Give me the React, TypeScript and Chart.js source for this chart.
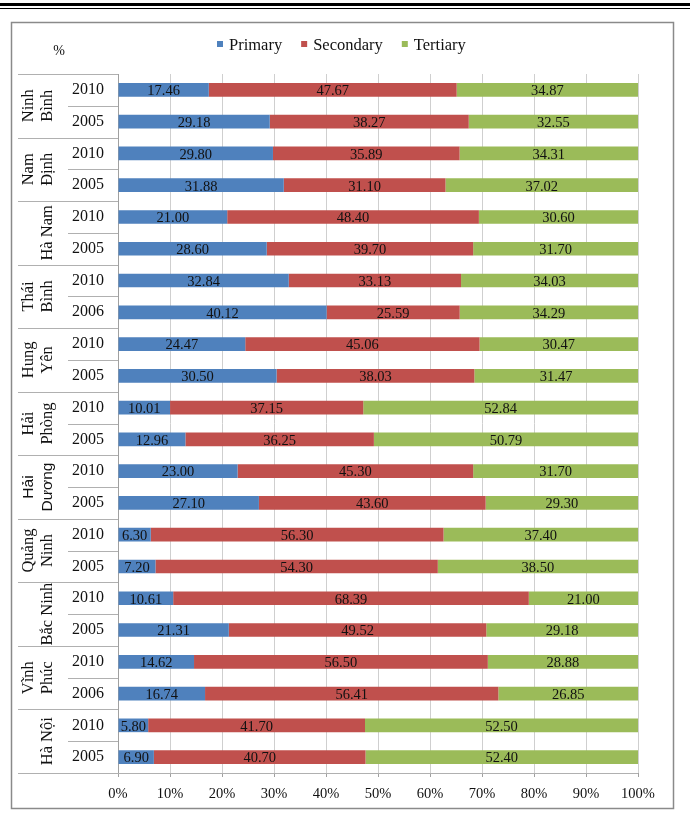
import React, { useEffect, useRef } from "react";
import { Chart, registerables } from "chart.js";

Chart.register(...registerables);

// ---- data ----
const provinces: string[][] = [
  ["Ninh", "Bình"],
  ["Nam", "Định"],
  ["Hà Nam"],
  ["Thái", "Bình"],
  ["Hung", "Yên"],
  ["Hải", "Phòng"],
  ["Hải", "Dương"],
  ["Quảng", "Ninh"],
  ["Bắc Ninh"],
  ["Vĩnh", "Phúc"],
  ["Hà Nội"],
];
const years = [
  "2010", "2005", "2010", "2005", "2010", "2005", "2010", "2006", "2010", "2005", "2010",
  "2005", "2010", "2005", "2010", "2005", "2010", "2005", "2010", "2006", "2010", "2005",
];
const primary = [
  17.46, 29.18, 29.8, 31.88, 21.0, 28.6, 32.84, 40.12, 24.47, 30.5, 10.01,
  12.96, 23.0, 27.1, 6.3, 7.2, 10.61, 21.31, 14.62, 16.74, 5.8, 6.9,
];
const secondary = [
  47.67, 38.27, 35.89, 31.1, 48.4, 39.7, 33.13, 25.59, 45.06, 38.03, 37.15,
  36.25, 45.3, 43.6, 56.3, 54.3, 68.39, 49.52, 56.5, 56.41, 41.7, 40.7,
];
const tertiary = [
  34.87, 32.55, 34.31, 37.02, 30.6, 31.7, 34.03, 34.29, 30.47, 31.47, 52.84,
  50.79, 31.7, 29.3, 37.4, 38.5, 21.0, 29.18, 28.88, 26.85, 52.5, 52.4,
];
const seriesNames = ["Primary", "Secondary", "Tertiary"];
const seriesColors = ["#4F81BD", "#C0504D", "#9BBB59"];
const xTicks = [0, 10, 20, 30, 40, 50, 60, 70, 80, 90, 100];
const unitLabel = "%";
const sansGroups = ["Hải Dương"];

const SERIF = "'Liberation Serif', 'DejaVu Serif', serif";

const decorPlugin = {
  id: "decor",
  beforeDraw(chart: any) {
    const ctx = chart.ctx;
    ctx.save();
    ctx.fillStyle = "#ffffff";
    ctx.fillRect(0, 0, chart.width, chart.height);
    // top double rule
    ctx.fillStyle = "#000";
    ctx.fillRect(0, 3, chart.width, 3);
    ctx.fillRect(0, 8, chart.width, 1);
    // chart frame
    ctx.strokeStyle = "#8a8a8a";
    ctx.lineWidth = 1.5;
    ctx.strokeRect(11.5, 22.5, 662, 786);
    ctx.restore();
  },
  afterDraw(chart: any) {
    const ctx = chart.ctx;
    const ys = chart.scales.y;
    const area = chart.chartArea;
    ctx.save();

    // table lines on the left
    ctx.strokeStyle = "#b0b0b0";
    ctx.lineWidth = 1;
    const n = years.length;
    const rowPix = (i: number) => ys.getPixelForValue(i);
    const boundary = (i: number) => (i === 0 ? area.top : i === n ? area.bottom : (rowPix(i - 1) + rowPix(i)) / 2);
    for (let g = 0; g <= provinces.length; g++) {
      const yb = Math.round(boundary(g * 2)) + 0.5;
      ctx.beginPath();
      ctx.moveTo(18, yb);
      ctx.lineTo(g === provinces.length ? area.right : area.left, yb);
      ctx.stroke();
    }
    for (let g = 0; g < provinces.length; g++) {
      const yb = Math.round(boundary(g * 2 + 1)) + 0.5;
      ctx.beginPath();
      ctx.moveTo(68, yb);
      ctx.lineTo(area.left, yb);
      ctx.stroke();
    }

    // group labels (rotated)
    ctx.fillStyle = "#111";
    ctx.textAlign = "center";
    ctx.textBaseline = "middle";
    provinces.forEach((lines, g) => {
      const cy = (rowPix(g * 2) + rowPix(g * 2 + 1)) / 2;
      const name = lines.join(" ");
      ctx.font = sansGroups.includes(name) ? "15.5px 'Liberation Sans', sans-serif" : "16.5px " + SERIF;
      const xs = lines.length === 2 ? [29, 47.5] : [48];
      lines.forEach((t, k) => {
        ctx.save();
        ctx.translate(xs[k], cy);
        ctx.rotate(-Math.PI / 2);
        ctx.fillText(t, 0, 0);
        ctx.restore();
      });
    });

    // data labels
    ctx.font = "14.5px " + SERIF;
    ctx.fillStyle = "#111";
    ctx.textAlign = "center";
    ctx.textBaseline = "middle";
    chart.data.datasets.forEach((ds: any, di: number) => {
      const meta = chart.getDatasetMeta(di);
      meta.data.forEach((el: any, j: number) => {
        const cx = (el.x + el.base) / 2;
        ctx.fillText(Number(ds.data[j]).toFixed(2), cx, el.y + 1.5);
      });
    });

    // "%" unit
    ctx.font = "14px " + SERIF;
    ctx.fillText(unitLabel, 59, 51);

    // legend
    ctx.font = "16.5px " + SERIF;
    ctx.textAlign = "left";
    let lx = 217;
    chart.data.datasets.forEach((ds: any) => {
      ctx.fillStyle = ds.backgroundColor;
      ctx.fillRect(lx, 41, 6, 6);
      ctx.fillStyle = "#111";
      ctx.fillText(ds.label, lx + 12, 46);
      lx += 12 + ctx.measureText(ds.label).width + 19;
    });

    ctx.restore();
  },
};

export default function App() {
  const ref = useRef<HTMLCanvasElement | null>(null);

  useEffect(() => {
    if (!ref.current) return;
    const data = [primary, secondary, tertiary];
    const chart = new Chart(ref.current, {
      type: "bar",
      data: {
        labels: years,
        datasets: seriesNames.map((name, i) => ({
          label: name,
          data: data[i],
          backgroundColor: seriesColors[i],
          borderWidth: 0,
          barPercentage: 0.43,
          categoryPercentage: 1,
        })),
      },
      options: {
        indexAxis: "y",
        responsive: false,
        animation: false,
        devicePixelRatio: 1,
        layout: { padding: { top: 74, right: 52, bottom: 0, left: 0 } },
        plugins: {
          legend: { display: false },
          tooltip: { enabled: false },
          title: { display: false },
        },
        scales: {
          x: {
            stacked: true,
            min: 0,
            max: 100,
            afterBuildTicks: (scale: any) => {
              scale.ticks = xTicks.map((v) => ({ value: v }));
            },
            afterFit: (scale: any) => {
              scale.height = 40;
            },
            grid: {
              color: "#cfcfcf",
              lineWidth: 1,
              tickColor: "#a0a0a0",
              tickLength: 4,
            },
            border: { display: true, color: "#a0a0a0" },
            ticks: {
              font: { family: SERIF, size: 14.5 },
              color: "#111",
              padding: 8,
              maxRotation: 0,
              callback: (v: any) => v + "%",
            },
          },
          y: {
            stacked: true,
            afterFit: (scale: any) => {
              scale.width = 118;
            },
            grid: { display: false, drawTicks: false },
            border: { display: true, color: "#a0a0a0" },
            ticks: {
              font: { family: SERIF, size: 16 },
              color: "#111",
              padding: 14,
              autoSkip: false,
            },
          },
        },
      },
      plugins: [decorPlugin],
    } as any);
    return () => chart.destroy();
  }, []);

  return (
    <div style={{ position: "absolute", left: 0, top: 0, width: 690, height: 813 }}>
      <canvas ref={ref} width={690} height={813} style={{ display: "block" }} />
    </div>
  );
}
